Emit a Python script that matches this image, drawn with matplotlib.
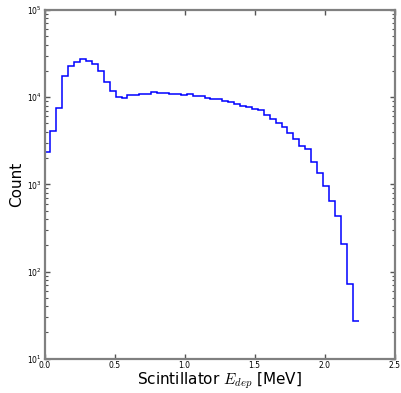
import numpy as np
import matplotlib
matplotlib.use("Agg")
import matplotlib.pyplot as plt

plt.rcParams['mathtext.fontset'] = 'cm'

# counts per bin (53 bins from 0 to ~2.243 MeV)
counts = [2350, 4090, 7500, 17300, 23000, 25500, 27400, 26200, 23700, 19800,
          14800, 11650, 9980, 9800, 10500, 10500, 10950, 10950, 11370, 11300,
          11300, 10800, 10800, 10500, 10900, 10400, 10300, 9870, 9620, 9620,
          9050, 8730, 8430, 7870, 7660, 7270, 7090, 6200, 5620, 5060,
          4550, 3850, 3320, 2740, 2530, 1820, 1350, 950, 645, 438,
          208, 72, 27]
e_min = 0.0
e_max = 2.243
edges = np.linspace(e_min, e_max, len(counts) + 1)

fig = plt.figure(figsize=(4.01, 3.93), dpi=100)
ax = fig.add_axes([0.111, 0.0873, 0.873, 0.8873])

ax.stairs(counts, edges, baseline=None, color='#0000ff', linewidth=1.1)

ax.set_yscale('log')
ax.set_xlim(0, 2.5)
ax.set_ylim(10, 1e5)
ax.set_xticks([0.0, 0.5, 1.0, 1.5, 2.0, 2.5])
ax.set_xticklabels(['0.0', '0.5', '1.0', '1.5', '2.0', '2.5'])

for s in ax.spines.values():
    s.set_color('#808080')
    s.set_linewidth(1.6)

ax.tick_params(which='major', direction='in', length=3.5, width=1, color='#555555',
               labelsize=5.5, top=True, right=True, pad=2)
ax.tick_params(which='minor', direction='in', length=2, width=0.8, color='#555555',
               top=True, right=True)

ax.set_xlabel('Scintillator $E_{dep}$ [MeV]', fontsize=11, labelpad=0)
ax.set_ylabel('Count', fontsize=11, labelpad=2)

fig.savefig('out.png', dpi=100)
